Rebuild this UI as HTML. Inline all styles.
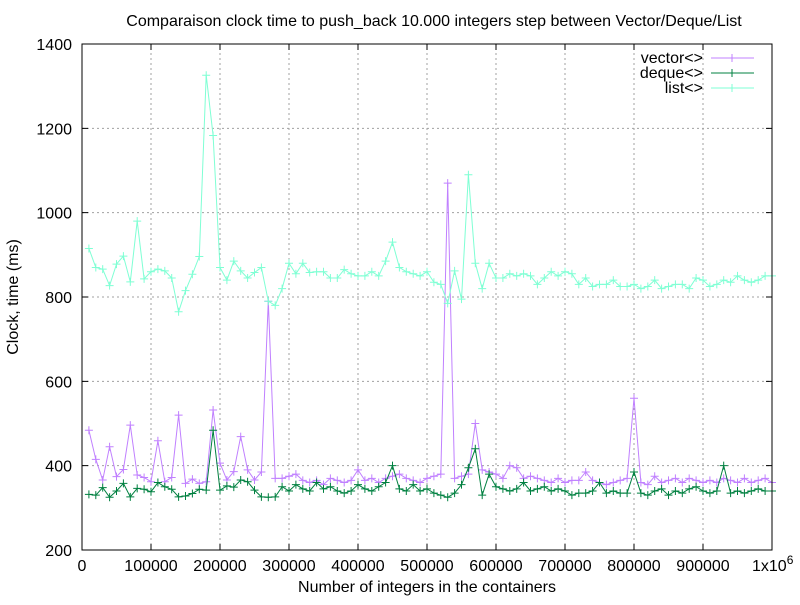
<!DOCTYPE html>
<html><head><meta charset="utf-8"><style>
html,body{margin:0;padding:0;background:#fff}
svg text{font-family:"Liberation Sans",sans-serif;font-size:16px;fill:#000}
</style></head><body>
<svg id="chart" width="800" height="600" xmlns="http://www.w3.org/2000/svg">
<text x="434" y="26" text-anchor="middle">Comparaison clock time to push_back 10.000 integers step between Vector/Deque/List</text>
<text x="427" y="592" text-anchor="middle">Number of integers in the containers</text>
<text transform="translate(18,297) rotate(-90)" text-anchor="middle">Clock, time (ms)</text>
<g id="grid"></g>
<g id="axes"></g>
<g id="series"></g>
<g id="legend"></g>
<rect x="82" y="44" width="690" height="506" fill="none" stroke="#000" stroke-width="1"/>
</svg>
<script>
const xTicks=[0,100000,200000,300000,400000,500000,600000,700000,800000,900000];
const yTicks=[200,400,600,800,1000,1200,1400];
const vectorVals=[484,415,366,445,374,391,496,378,372,362,459,362,372,520,358,368,358,362,532,406,366,386,469,390,366,385,790,370,370,375,380,365,360,365,355,370,365,360,365,390,365,370,360,370,375,380,370,365,360,370,375,380,1070,370,375,380,500,390,385,380,370,400,395,370,375,370,365,360,370,360,365,365,385,365,360,355,360,365,370,560,360,355,375,360,365,370,360,370,365,360,365,360,370,365,360,370,360,365,370,360];
const dequeVals=[332,330,348,325,340,358,326,346,344,338,360,350,344,326,328,334,344,342,484,342,352,349,366,362,342,326,325,326,350,340,355,345,340,360,345,350,340,335,340,355,345,340,350,360,400,345,340,355,340,345,335,330,325,335,355,395,440,330,380,350,345,340,345,360,340,345,350,340,345,340,330,335,335,340,360,335,340,335,335,385,335,330,340,345,330,340,335,345,350,340,335,340,400,335,340,335,340,345,340,340];
const listVals=[915,870,866,827,878,897,836,980,843,860,866,862,845,765,815,854,896,1326,1183,870,840,885,862,845,858,870,790,780,820,880,855,880,858,860,860,845,845,865,855,850,850,860,850,885,930,870,860,855,850,860,835,830,785,862,795,1090,880,820,880,845,845,855,850,855,850,830,845,860,850,860,855,830,845,825,830,830,840,825,825,830,820,825,840,820,825,830,830,820,845,840,825,830,840,835,850,840,835,840,850,850];
const steps=vectorVals.map((_,i)=>(i+1)*10000);
const X0=82,X1=772,Y0=550,Y1=44;
const xs=v=>X0+v/1000000*(X1-X0);
const ys=v=>Y0-(v-200)/1200*(Y0-Y1);
const NS="http://www.w3.org/2000/svg";
function mk(tag,attrs,parent){const e=document.createElementNS(NS,tag);for(const k in attrs)e.setAttribute(k,attrs[k]);parent.appendChild(e);return e;}
const grid=document.getElementById('grid'),axes=document.getElementById('axes');
xTicks.concat([1000000]).forEach(t=>{
  const x=xs(t);
  if(t>0&&t<1000000){const l=mk('line',{x1:x,y1:Y0,x2:x,y2:Y1,stroke:'#a0a0a0','stroke-dasharray':'2,3'},grid);
  
  }
  const tk=mk('path',{d:`M${x},${Y0}v-6M${x},${Y1}v6`,stroke:'#000'},axes);
  
  
  if(t<1000000){const tx=mk('text',{x:x,y:571,'text-anchor':'middle'},axes);tx.textContent=String(t);
  
  }
});
const big=mk('text',{x:752,y:571},axes);big.innerHTML='1x10<tspan dy="-7" font-size="12">6</tspan>';


yTicks.forEach(t=>{
  const y=ys(t);
  if(t>200&&t<1400){const l=mk('line',{x1:X0,y1:y,x2:X1,y2:y,stroke:'#a0a0a0','stroke-dasharray':'2,3'},grid);
  
  }
  const tk=mk('path',{d:`M${X0},${y}h6M${X1},${y}h-6`,stroke:'#000'},axes);
  
  
  const tx=mk('text',{x:72,y:y+6,'text-anchor':'end'},axes);tx.textContent=String(t);
  
  
});
const series=document.getElementById('series'),legend=document.getElementById('legend');
const defs=[['vector',vectorVals,'#c080ff','vector<>'],['deque',dequeVals,'#008040','deque<>'],['list',listVals,'#7fffd4','list<>']];
defs.forEach(([key,vals,col,label],si)=>{
  const g=mk('g',{},series);
  
  
  const pts=vals.map((v,i)=>[xs(steps[i]),ys(v)]);
  const pl=mk('polyline',{points:pts.map(p=>p.join(',')).join(' '),fill:'none',stroke:col,'stroke-width':1},g);
  
  
  pts.forEach(([x,y])=>{
    const m=mk('path',{d:`M${x-4},${y}h8M${x},${y-4}v8`,stroke:col,'stroke-width':1},g);
    
    
  });
  const ly=58+si*15;
  const le=mk('g',{},legend);
  
  
  const t=mk('text',{x:703,y:ly+5,'text-anchor':'end'},le);t.textContent=label;
  mk('line',{x1:711,y1:ly,x2:754,y2:ly,stroke:col},le);
  mk('path',{d:`M728,${ly}h8M732,${ly-4}v8`,stroke:col},le);
});
</script>
</body></html>
